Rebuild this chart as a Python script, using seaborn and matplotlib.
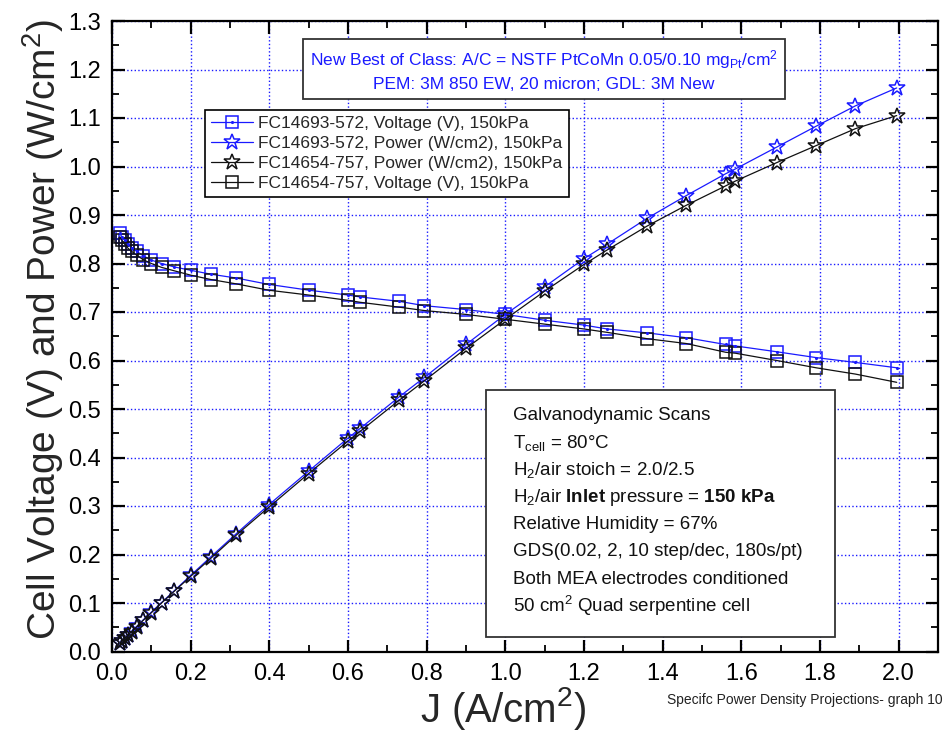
import matplotlib.pyplot as plt
import seaborn as sns
from matplotlib.legend_handler import HandlerTuple
from matplotlib.patches import Rectangle
from matplotlib.ticker import MultipleLocator

# Current density steps (A/cm2)
j = [0.02, 0.025, 0.032, 0.04, 0.05, 0.063, 0.079, 0.1, 0.126, 0.158,
     0.2, 0.251, 0.316, 0.398, 0.5, 0.6, 0.631, 0.73, 0.794, 0.9,
     1.0, 1.1, 1.2, 1.259, 1.36, 1.46, 1.56, 1.585, 1.69, 1.79, 1.89, 1.995]

# FC14693-572 (blue)
v_693 = [0.862, 0.855, 0.848, 0.840, 0.832, 0.825, 0.816, 0.807, 0.800, 0.793,
         0.786, 0.778, 0.770, 0.757, 0.745, 0.735, 0.731, 0.722, 0.713, 0.705,
         0.695, 0.683, 0.673, 0.665, 0.657, 0.647, 0.633, 0.630, 0.618, 0.606, 0.596, 0.585]
p_693 = [0.017, 0.021, 0.027, 0.034, 0.042, 0.052, 0.065, 0.081, 0.101, 0.125,
         0.157, 0.195, 0.243, 0.302, 0.372, 0.440, 0.460, 0.525, 0.565, 0.633,
         0.695, 0.752, 0.810, 0.840, 0.893, 0.940, 0.985, 0.995, 1.040, 1.083, 1.125, 1.162]

# FC14654-757 (black)
v_654 = [0.855, 0.848, 0.840, 0.832, 0.825, 0.817, 0.808, 0.800, 0.792, 0.785,
         0.776, 0.767, 0.758, 0.745, 0.735, 0.724, 0.720, 0.710, 0.703, 0.695,
         0.685, 0.675, 0.665, 0.658, 0.645, 0.635, 0.617, 0.615, 0.600, 0.585, 0.572, 0.555]
p_654 = [0.017, 0.021, 0.027, 0.033, 0.041, 0.051, 0.064, 0.080, 0.100, 0.124,
         0.155, 0.192, 0.240, 0.297, 0.367, 0.434, 0.454, 0.518, 0.558, 0.625,
         0.685, 0.743, 0.798, 0.828, 0.877, 0.920, 0.960, 0.970, 1.008, 1.043, 1.078, 1.105]

BLUE = "#1a1aff"
BLACK = "#111111"

sns.set_style("ticks")
plt.rcParams["font.family"] = ["Liberation Sans", "DejaVu Sans"]
plt.rcParams["mathtext.fontset"] = "custom"
plt.rcParams["mathtext.rm"] = "Liberation Sans"
plt.rcParams["mathtext.it"] = "Liberation Sans:italic"
plt.rcParams["mathtext.bf"] = "Liberation Sans:bold"

fig = plt.figure(figsize=(9.45, 7.35), dpi=100)
ax = fig.add_axes([112 / 945, 1 - 651.5 / 735, 826 / 945, 630.5 / 735])

series = [
    ("FC14693-572, Voltage (V), 150kPa", v_693, BLUE, "s", 9),
    ("FC14693-572, Power (W/cm2), 150kPa", p_693, BLUE, "*", 12),
    ("FC14654-757, Power (W/cm2), 150kPa", p_654, BLACK, "*", 12),
    ("FC14654-757, Voltage (V), 150kPa", v_654, BLACK, "s", 9),
]

handles = []
for label, vals, col, mk, ms in series:
    n = len(ax.lines)
    sns.lineplot(x=j, y=vals, ax=ax, color=col, linewidth=0.9, sort=False,
                 marker=mk, markersize=ms, markerfacecolor="none",
                 markeredgecolor=col, markeredgewidth=1.1, label=label, legend=False)
    handles.append(ax.lines[n])

# center dot of the blue square markers
dots = ax.plot(j, v_693, ls="none", marker=".", ms=2.5, color=BLUE)[0]
handles[0] = (handles[0], dots)

# Axes limits / ticks
ax.set_xlim(0, 2.1)
ax.set_ylim(0, 1.3)
ax.xaxis.set_major_locator(MultipleLocator(0.2))
ax.xaxis.set_minor_locator(MultipleLocator(0.1))
ax.yaxis.set_major_locator(MultipleLocator(0.1))
ax.yaxis.set_minor_locator(MultipleLocator(0.05))
ax.xaxis.set_major_formatter(plt.FormatStrFormatter("%.1f"))
ax.yaxis.set_major_formatter(plt.FormatStrFormatter("%.1f"))
ax.tick_params(which="both", direction="in", top=True, right=True, labelsize=17,
               colors="black", pad=8)
ax.tick_params(which="major", length=9, width=1.6)
ax.tick_params(which="minor", length=5, width=1.3)
for sp in ax.spines.values():
    sp.set_visible(True)
    sp.set_linewidth(1.6)
    sp.set_color("black")

ax.grid(True, which="major", color=BLUE, linestyle=":", linewidth=1.0)
ax.set_axisbelow(True)

# Labels
ax.set_xlabel("J (A/cm$^2$)", fontsize=29)
ax.set_ylabel("Cell Voltage (V) and Power (W/cm$^2$)", fontsize=28)
ax.xaxis.set_label_coords(0.474, -0.053)
ax.yaxis.set_label_coords(-0.056, 0.51)

# Legend
leg = ax.legend(handles, [s[0] for s in series], loc="upper left",
                bbox_to_anchor=(0.113, 0.859), borderaxespad=0, fontsize=12.5,
                frameon=True, fancybox=False, edgecolor="black", framealpha=1,
                handlelength=2.4, handletextpad=0.3, labelspacing=0.28,
                borderpad=0.35, numpoints=1,
                handler_map={tuple: HandlerTuple(ndivide=1, pad=0)})
leg.get_frame().set_linewidth(1.2)

# Top annotation box
ax.text(0.523, 0.922,
        "New Best of Class: A/C = NSTF PtCoMn 0.05/0.10 mg$_{\\mathrm{Pt}}$/cm$^2$\n"
        "PEM: 3M 850 EW, 20 micron; GDL: 3M New",
        transform=ax.transAxes, ha="center", va="center", color=BLUE,
        fontsize=12.5, linespacing=1.5,
        bbox=dict(boxstyle="square,pad=0.4", fc="white", ec="#333333", lw=1.3))

# Conditions box
ax.add_patch(Rectangle((0.453, 0.023), 0.422, 0.392, transform=ax.transAxes,
                       fc="white", ec="#333333", lw=1.3, zorder=5))
cond_lines = [
    "Galvanodynamic Scans",
    "T$_{\\mathrm{cell}}$ = 80°C",
    "H$_2$/air stoich = 2.0/2.5",
    "H$_2$/air $\\mathbf{Inlet}$ pressure = $\\mathbf{150\\ kPa}$",
    "Relative Humidity = 67%",
    "GDS(0.02, 2, 10 step/dec, 180s/pt)",
    "Both MEA electrodes conditioned",
    "50 cm$^2$ Quad serpentine cell",
]
y0 = 0.374
for i, line in enumerate(cond_lines):
    ax.text(0.4855, y0 - i * 0.0432, line, transform=ax.transAxes,
            ha="left", va="center", fontsize=13.5, color="#111111", zorder=6)

fig.text(0.998, 0.047, "Specifc Power Density Projections- graph 10",
         ha="right", va="center", fontsize=10, color="#222222")

fig.savefig("out.png", dpi=100)
